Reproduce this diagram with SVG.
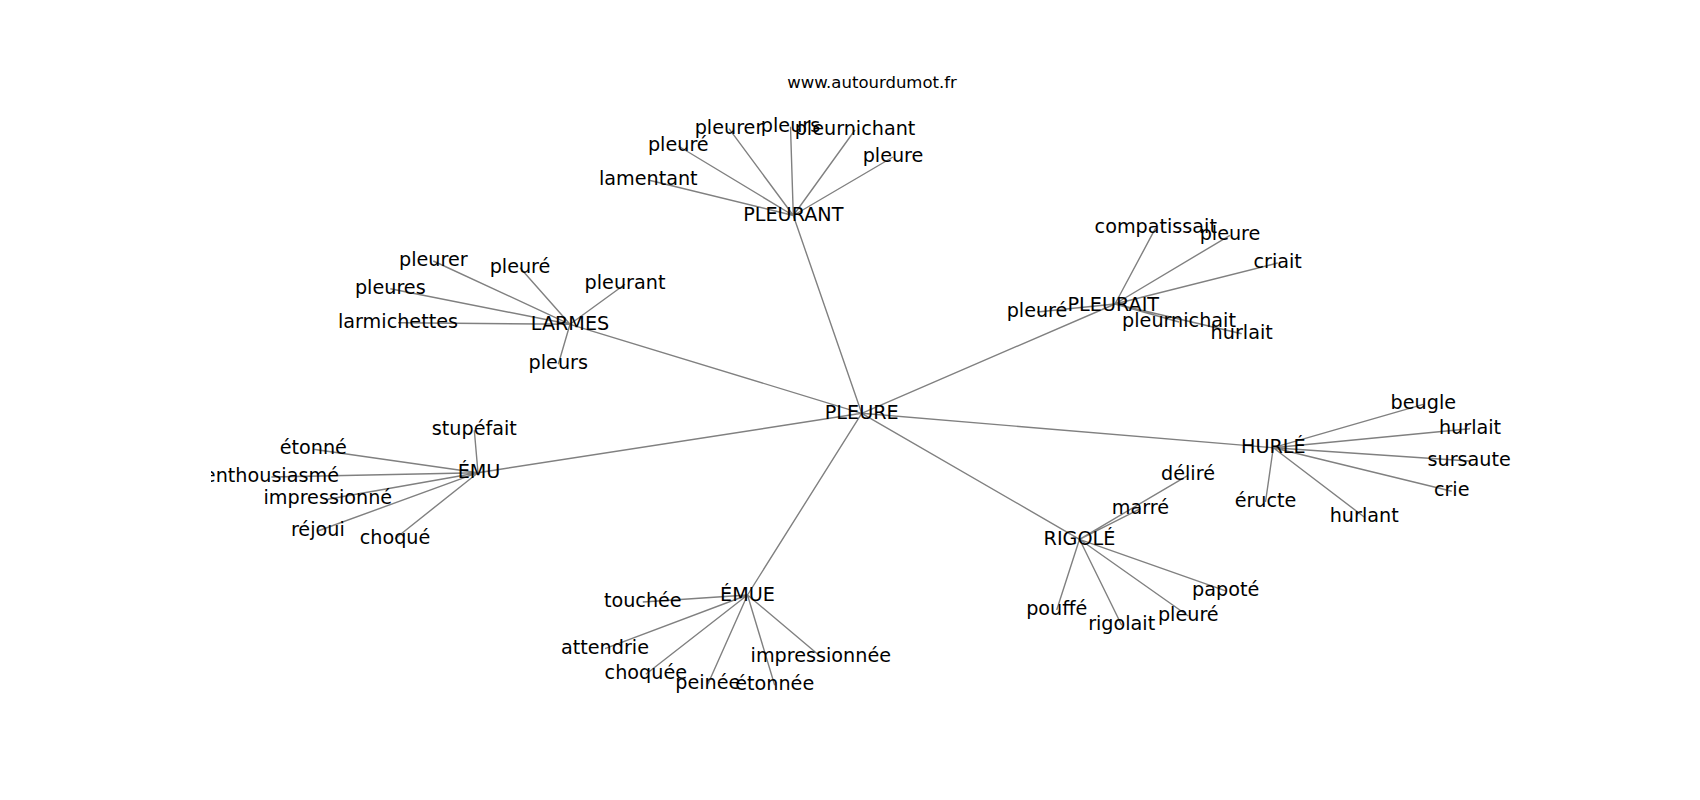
<svg xmlns="http://www.w3.org/2000/svg" width="1700" height="800" viewBox="0 0 1700 800">
<style>
.e{stroke:#808080;stroke-width:1.4;fill:none}
text{font-family:"DejaVu Sans",sans-serif;fill:#000;text-anchor:middle}
.n text{font-size:19.2px}
.t{font-size:16.5px}
</style>
<defs><clipPath id="ax"><rect x="211" y="0" width="1489" height="800"/></clipPath></defs>
<rect width="1700" height="800" fill="#fff"/>
<text class="t" x="872" y="88">www.autourdumot.fr</text>
<g id="edges" class="e" clip-path="url(#ax)">
<path d="M861.7 413.3L793.3 215.5M861.7 413.3L570 324.3M861.7 413.3L478 472.7M861.7 413.3L747.5 595M861.7 413.3L1079.5 539.3M861.7 413.3L1273.3 447.7M861.7 413.3L1115 304"/>
<path d="M793.3 215.5L648.3 180M793.3 215.5L678.3 146M793.3 215.5L729 128.7M793.3 215.5L790.5 126.7M793.3 215.5L855 130M793.3 215.5L893 157"/>
<path d="M570 324.3L433.3 261M570 324.3L520 267.7M570 324.3L625 284.3M570 324.3L390.3 288.7M570 324.3L398 322.7M570 324.3L558.3 364.3"/>
<path d="M478 472.7L474.3 430.3M478 472.7L313.3 449.3M478 472.7L271.4 477M478 472.7L327.8 499.3M478 472.7L317.8 531M478 472.7L395 538.7"/>
<path d="M1115 304L1155.8 227.7M1115 304L1230 235.3M1115 304L1277.7 263M1115 304L1037 312M1115 304L1179 322M1115 304L1241.7 333.7"/>
<path d="M1273.3 447.7L1423.3 404.3M1273.3 447.7L1470 428.7M1273.3 447.7L1469.2 461M1273.3 447.7L1451.7 491.3M1273.3 447.7L1364.2 517M1273.3 447.7L1265.5 502"/>
<path d="M1079.5 539.3L1188 475.3M1079.5 539.3L1140.5 508.7M1079.5 539.3L1225.7 590.9M1079.5 539.3L1056.7 610M1079.5 539.3L1121.7 625.3M1079.5 539.3L1188.3 616"/>
<path d="M747.5 595L642.8 602M747.5 595L605 648.7M747.5 595L645.8 674.3M747.5 595L707.8 684.3M747.5 595L774.7 685.3M747.5 595L820.8 656.7"/>
</g>
<g class="n" clip-path="url(#ax)">
<g id="n-pleure-hub"><text x="861.7" y="418.8">PLEURE</text></g>
<g id="n-pleurant-hub"><text x="793.3" y="221">PLEURANT</text></g>
<g id="n-larmes"><text x="570" y="329.8">LARMES</text></g>
<g id="n-emu"><text x="479" y="478.2">ÉMU</text></g>
<g id="n-emue"><text x="747.5" y="600.5">ÉMUE</text></g>
<g id="n-rigole"><text x="1079.5" y="544.8">RIGOLÉ</text></g>
<g id="n-hurle"><text x="1273.3" y="453.2">HURLÉ</text></g>
<g id="n-pleurait-hub"><text x="1113.3" y="311.2">PLEURAIT</text></g>

<g id="n-lamentant"><text x="648.3" y="185">lamentant</text></g>
<g id="n-pa-pleure2"><text x="678.3" y="151">pleuré</text></g>
<g id="n-pa-pleurer"><text x="729" y="133.7">pleurer</text></g>
<g id="n-pa-pleurs"><text x="790.5" y="131.7">pleurs</text></g>
<g id="n-pleurnichant"><text x="855" y="135">pleurnichant</text></g>
<g id="n-pa-pleure"><text x="893" y="162">pleure</text></g>

<g id="n-la-pleurer"><text x="433.3" y="266">pleurer</text></g>
<g id="n-la-pleure2"><text x="520" y="272.7">pleuré</text></g>
<g id="n-la-pleurant"><text x="625" y="289.3">pleurant</text></g>
<g id="n-pleures"><text x="390.3" y="293.7">pleures</text></g>
<g id="n-larmichettes"><text x="398" y="327.7">larmichettes</text></g>
<g id="n-la-pleurs"><text x="558.3" y="369.3">pleurs</text></g>

<g id="n-stupefait"><text x="474.3" y="435.3">stupéfait</text></g>
<g id="n-etonne"><text x="313.3" y="454.3">étonné</text></g>
<g id="n-enthousiasme"><text x="271.4" y="482">enthousiasmé</text></g>
<g id="n-impressionne"><text x="327.8" y="504.3">impressionné</text></g>
<g id="n-rejoui"><text x="317.8" y="536">réjoui</text></g>
<g id="n-choque"><text x="395" y="543.7">choqué</text></g>

<g id="n-compatissait"><text x="1155.8" y="232.7">compatissait</text></g>
<g id="n-pt-pleure"><text x="1230" y="240.3">pleure</text></g>
<g id="n-criait"><text x="1277.7" y="268">criait</text></g>
<g id="n-pt-pleure2"><text x="1037" y="317">pleuré</text></g>
<g id="n-pleurnichait"><text x="1179" y="327">pleurnichait</text></g>
<g id="n-pt-hurlait"><text x="1241.7" y="338.7">hurlait</text></g>

<g id="n-beugle"><text x="1423.3" y="409.3">beugle</text></g>
<g id="n-hu-hurlait"><text x="1470" y="433.7">hurlait</text></g>
<g id="n-sursaute"><text x="1469.2" y="466">sursaute</text></g>
<g id="n-crie"><text x="1451.7" y="496.3">crie</text></g>
<g id="n-hurlant"><text x="1364.2" y="522">hurlant</text></g>
<g id="n-eructe"><text x="1265.5" y="507">éructe</text></g>

<g id="n-delire"><text x="1188" y="480.3">déliré</text></g>
<g id="n-marre"><text x="1140.5" y="513.7">marré</text></g>
<g id="n-papote"><text x="1225.7" y="595.9">papoté</text></g>
<g id="n-pouffe"><text x="1056.7" y="615">pouffé</text></g>
<g id="n-rigolait"><text x="1121.7" y="630.3">rigolait</text></g>
<g id="n-ri-pleure"><text x="1188.3" y="621">pleuré</text></g>

<g id="n-touchee"><text x="642.8" y="607">touchée</text></g>
<g id="n-attendrie"><text x="605" y="653.7">attendrie</text></g>
<g id="n-choquee"><text x="645.8" y="679.3">choquée</text></g>
<g id="n-peinee"><text x="707.8" y="689.3">peinée</text></g>
<g id="n-etonnee"><text x="774.7" y="690.3">étonnée</text></g>
<g id="n-impressionnee"><text x="820.8" y="661.7">impressionnée</text></g>
</g>
</svg>
